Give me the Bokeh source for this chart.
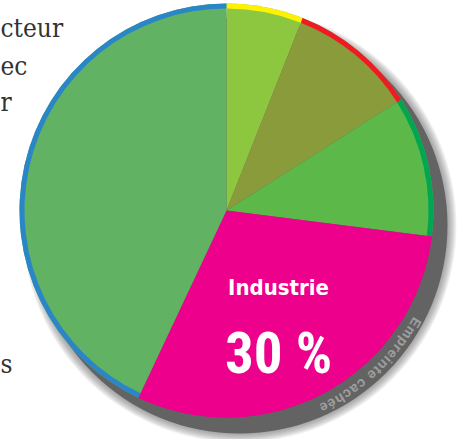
import numpy as np
from bokeh.plotting import figure
from bokeh.models import Range1d
from bokeh.core.properties import value
from bokeh.embed import file_html
from bokeh.resources import INLINE

# ---- data ----
categories = ["Secteur 1", "Secteur 2", "Secteur 3", "Industrie", "Secteur 5"]
shares = [6, 10, 11, 30, 43]
fill_colors = ["#8DC63F", "#8A9B3C", "#5CB848", "#EC008C", "#61B262"]
rim_colors = ["#FFF200", "#ED1C24", "#00A651", "#EC008C", "#2B86C8"]
highlight = "Industrie"
shadow_label = "Empreinte cachée"
left_text = ["cteur", "ec", "r", "s"]

W, H = 459, 439
p = figure(width=W, height=H, x_range=Range1d(0, W), y_range=Range1d(0, H),
           output_backend="svg", toolbar_location=None, min_border=0,
           x_axis_type=None, y_axis_type=None)
p.grid.visible = False
p.outline_line_color = None
p.background_fill_color = "white"
p.border_fill_color = "white"

cx, cy, R = 226, 229, 207
sx, sy = cx + 13, cy - 15  # shadow centre

# soft shadow blur
for k in range(10, 0, -1):
    p.circle(x=[sx], y=[sy], radius=R + k, fill_color="#555555", fill_alpha=0.07,
             line_color=None)
p.circle(x=[sx], y=[sy], radius=R + 1, fill_color="#636363", line_color=None)

# curved shadow text
cw = {"E": .667, "m": .889, "p": .611, "r": .389, "e": .556, "i": .278, "n": .611,
      "t": .333, " ": .278, "c": .556, "a": .556, "h": .611, "é": .556}
fs = 14
sp = 1.0
r_txt = 220
a0 = np.deg2rad(-29.5)
xs, ys, angs = [], [], []
s = 0.0
for i, ch in enumerate(shadow_label):
    w = cw.get(ch, .556) * fs
    mid = s + w / 2
    a = a0 - mid / r_txt
    xs.append(cx + r_txt * np.cos(a))
    ys.append(cy + r_txt * np.sin(a))
    angs.append(a - np.pi / 2)
    s += w + sp
p.text(x=xs, y=ys, text=list(shadow_label), angle=angs, text_align="center",
       text_baseline="middle", text_font=value("Liberation Sans"), text_font_style="bold",
       text_font_size=f"{fs}px", text_color="#9E9E9E")

# pie wedges
cum = np.concatenate([[0], np.cumsum(shares)])
starts = np.pi / 2 - cum[:-1] / sum(shares) * 2 * np.pi
ends = np.pi / 2 - cum[1:] / sum(shares) * 2 * np.pi
p.wedge(x=cx, y=cy, radius=R, start_angle=starts, end_angle=ends, direction="clock",
        fill_color=fill_colors, line_color=None)
p.annular_wedge(x=cx, y=cy, inner_radius=R - 5, outer_radius=R, start_angle=starts,
                end_angle=ends, direction="clock", fill_color=rim_colors, line_color=None)

# label on highlighted slice
idx = categories.index(highlight)
mid_a = (starts[idx] + ends[idx]) / 2
lx = cx + 108 * np.cos(mid_a)
p.text(x=[lx], y=[152], text=[highlight], text_align="center", text_baseline="alphabetic",
       text_font=value("DejaVu Sans Condensed"), text_font_style="bold",
       text_font_size="22px", text_color="white")
p.text(x=[lx], y=[86], text=[f"{shares[idx]} %"], text_align="center",
       text_baseline="alphabetic", text_font=value("Roboto Condensed"),
       text_font_style="bold", text_font_size="57px", text_color="white")

# left text fragments (at the page edge)
p.text(x=[0, 0, 0, 0], y=[H - 27, H - 65, H - 101, H - 363], text=left_text,
       text_align="left", text_baseline="alphabetic",
       text_font=value("DejaVu Serif Condensed"),
       text_font_size="26px", text_color="#333333")

open("out.html", "w").write(file_html(p, INLINE))
